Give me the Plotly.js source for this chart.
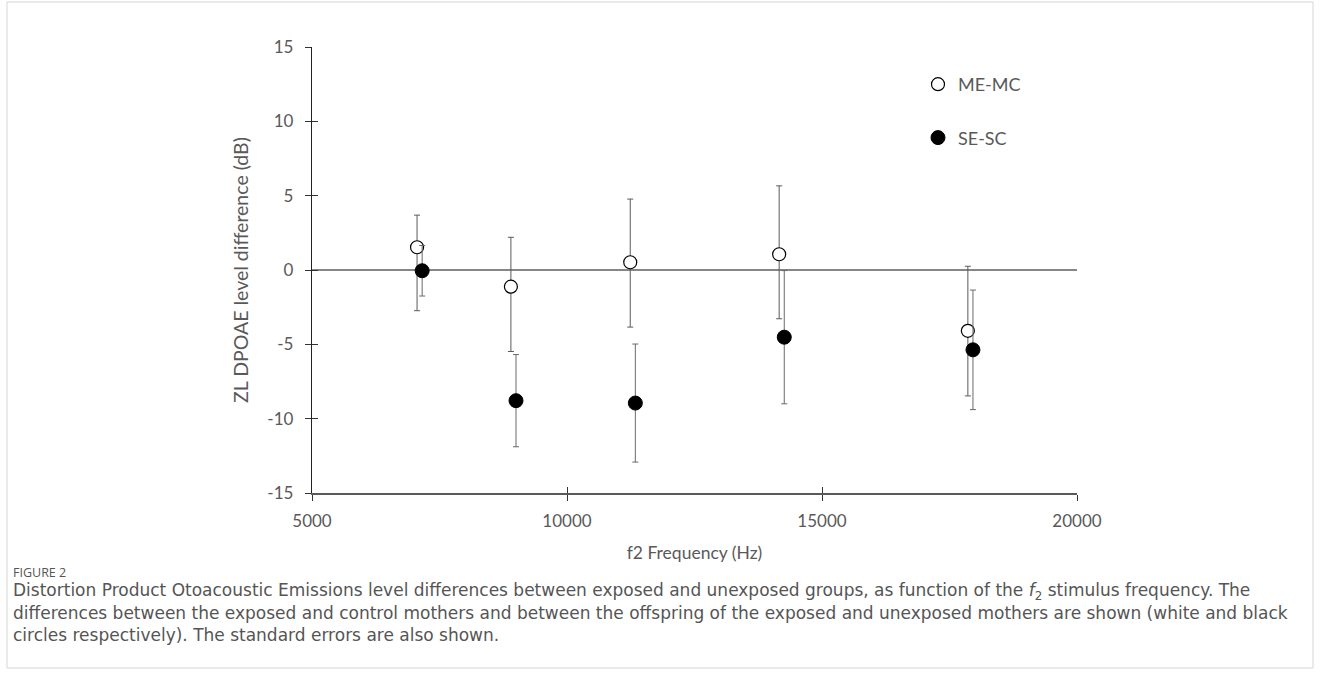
<!DOCTYPE html>
<html>
<head>
<meta charset="utf-8">
<script src="https://cdn.plot.ly/plotly-3.0.1.min.js"></script>
<style>
html,body{margin:0;padding:0;background:#fff;}
#chart{width:1320px;height:693px;}
</style>
</head>
<body>
<div id="chart"></div>
<script>
// ---- data ----
const seriesNames = ["ME-MC", "SE-SC"];
const meFreq = [7060, 8900, 11240, 14160, 17860];
const meDiff = [1.53, -1.12, 0.52, 1.06, -4.09];
const meErrPlus = [2.16, 3.32, 4.25, 4.6, 4.34];
const meErrMinus = [4.27, 4.36, 4.36, 4.34, 4.38];
const seFreq = [7160, 9000, 11340, 14260, 17960];
const seDiff = [-0.05, -8.79, -8.95, -4.52, -5.37];
const seErr = [1.7, 3.1, 3.97, 4.48, 4.02];
const xTicks = [5000, 10000, 15000, 20000];
const yTicks = [-15, -10, -5, 0, 5, 10, 15];

const captionTitle = "FIGURE 2";
const captionLines = [
  "Distortion Product Otoacoustic Emissions level differences between exposed and unexposed groups, as function of the <i>f</i><sub>2</sub> stimulus frequency. The",
  "differences between the exposed and control mothers and between the offspring of the exposed and unexposed mothers are shown (white and black",
  "circles respectively). The standard errors are also shown."
];

// ---- layout geometry ----
const W = 1320, H = 693;
const L = 312, R = 1077, T = 47, B = 493;
const pw = R - L, ph = B - T;
const px = x => (x - L) / pw;
const py = y => (B - y) / ph;

const grey = "#595959";
const font = "Lato, 'Open Sans', sans-serif";

const traces = [
  {
    x: meFreq, y: meDiff, name: seriesNames[0], type: "scatter", mode: "markers",
    legendgroup: "a",
    marker: {symbol: "circle", size: 13, color: "#ffffff", line: {color: "#000000", width: 1.2}},
    error_y: {type: "data", symmetric: false, array: meErrPlus, arrayminus: meErrMinus,
      color: "#5a5a5a", thickness: 1, width: 3},
    cliponaxis: false
  },
  {
    x: seFreq, y: seDiff, name: seriesNames[1], type: "scatter", mode: "markers",
    legendgroup: "b",
    marker: {symbol: "circle", size: 14, color: "#000000", line: {color: "#000000", width: 1}},
    error_y: {type: "data", array: seErr, color: "#6a6a6a", thickness: 1, width: 3},
    cliponaxis: false
  },
  // invisible trace on overlay axes for inside ticks (cross-style ticks)
  {x: [5000, 20000], y: [-15, 15], xaxis: "x2", yaxis: "y2", mode: "markers",
   marker: {opacity: 0}, showlegend: false, hoverinfo: "skip"}
];

const annotations = [
  {text: captionTitle, xref: "paper", yref: "paper", x: px(11), y: py(572),
   xanchor: "left", yanchor: "middle", showarrow: false,
   font: {family: "'Open Sans', sans-serif", size: 12.5, color: "#555555"}}
];
captionLines.forEach((t, i) => {
  annotations.push({text: t, xref: "paper", yref: "paper", x: px(11), y: py(591 + 22 * i),
    xanchor: "left", yanchor: "middle", showarrow: false, align: "left",
    font: {family: "'DejaVu Sans', sans-serif", size: 17, color: "#555555"}});
});

const layout = {
  width: W, height: H,
  margin: {l: L, r: W - R, t: T, b: H - B, pad: 0},
  paper_bgcolor: "#ffffff", plot_bgcolor: "#ffffff",
  font: {family: font, color: grey},
  showlegend: true,
  legend: {x: px(918), y: py(66), xanchor: "left", yanchor: "top",
    font: {family: font, size: 18, color: grey}, bgcolor: "rgba(0,0,0,0)",
    tracegroupgap: 27, itemwidth: 30},
  xaxis: {
    range: [5000, 20000], tickvals: xTicks, ticktext: xTicks.map(String),
    showgrid: false, zeroline: false, showline: true, linecolor: "#595959", linewidth: 1.5,
    ticks: "outside", ticklen: 6, tickcolor: "#333333", tickwidth: 1,
    tickfont: {family: font, size: 17, color: grey},
    title: {text: "f2 Frequency (Hz)", font: {family: font, size: 17.5, color: grey}, standoff: 17},
    ticklabelstandoff: 6
  },
  yaxis: {
    range: [-15, 15], tickvals: yTicks, ticktext: yTicks.map(String),
    showgrid: false, zeroline: true, zerolinecolor: "#868686", zerolinewidth: 2,
    showline: true, linecolor: "#222222", linewidth: 1.2,
    ticks: "outside", ticklen: 6, tickcolor: "#333333", tickwidth: 1,
    tickfont: {family: font, size: 17, color: grey},
    title: {text: "ZL DPOAE level difference (dB)", font: {family: font, size: 19.5, color: grey}, standoff: 13},
    ticklabelstandoff: 8
  },
  xaxis2: {range: [5000, 20000], overlaying: "x", anchor: "y2", side: "bottom", tickvals: xTicks,
    showticklabels: false, ticks: "inside", ticklen: 6, tickcolor: "#333333",
    showgrid: false, zeroline: false, showline: false},
  yaxis2: {range: [-15, 15], overlaying: "y", anchor: "x2", side: "left", tickvals: yTicks,
    showticklabels: false, ticks: "inside", ticklen: 6, tickcolor: "#333333",
    showgrid: false, zeroline: false, showline: false},
  annotations: annotations,
  shapes: [
    {type: "rect", xref: "paper", yref: "paper", x0: px(7), x1: px(1313), y0: py(668), y1: py(2),
     line: {color: "#d5d5d5", width: 1}, fillcolor: "rgba(0,0,0,0)", layer: "below"}
  ]
};

Plotly.newPlot("chart", traces, layout, {staticPlot: true, displayModeBar: false});
</script>
</body>
</html>
